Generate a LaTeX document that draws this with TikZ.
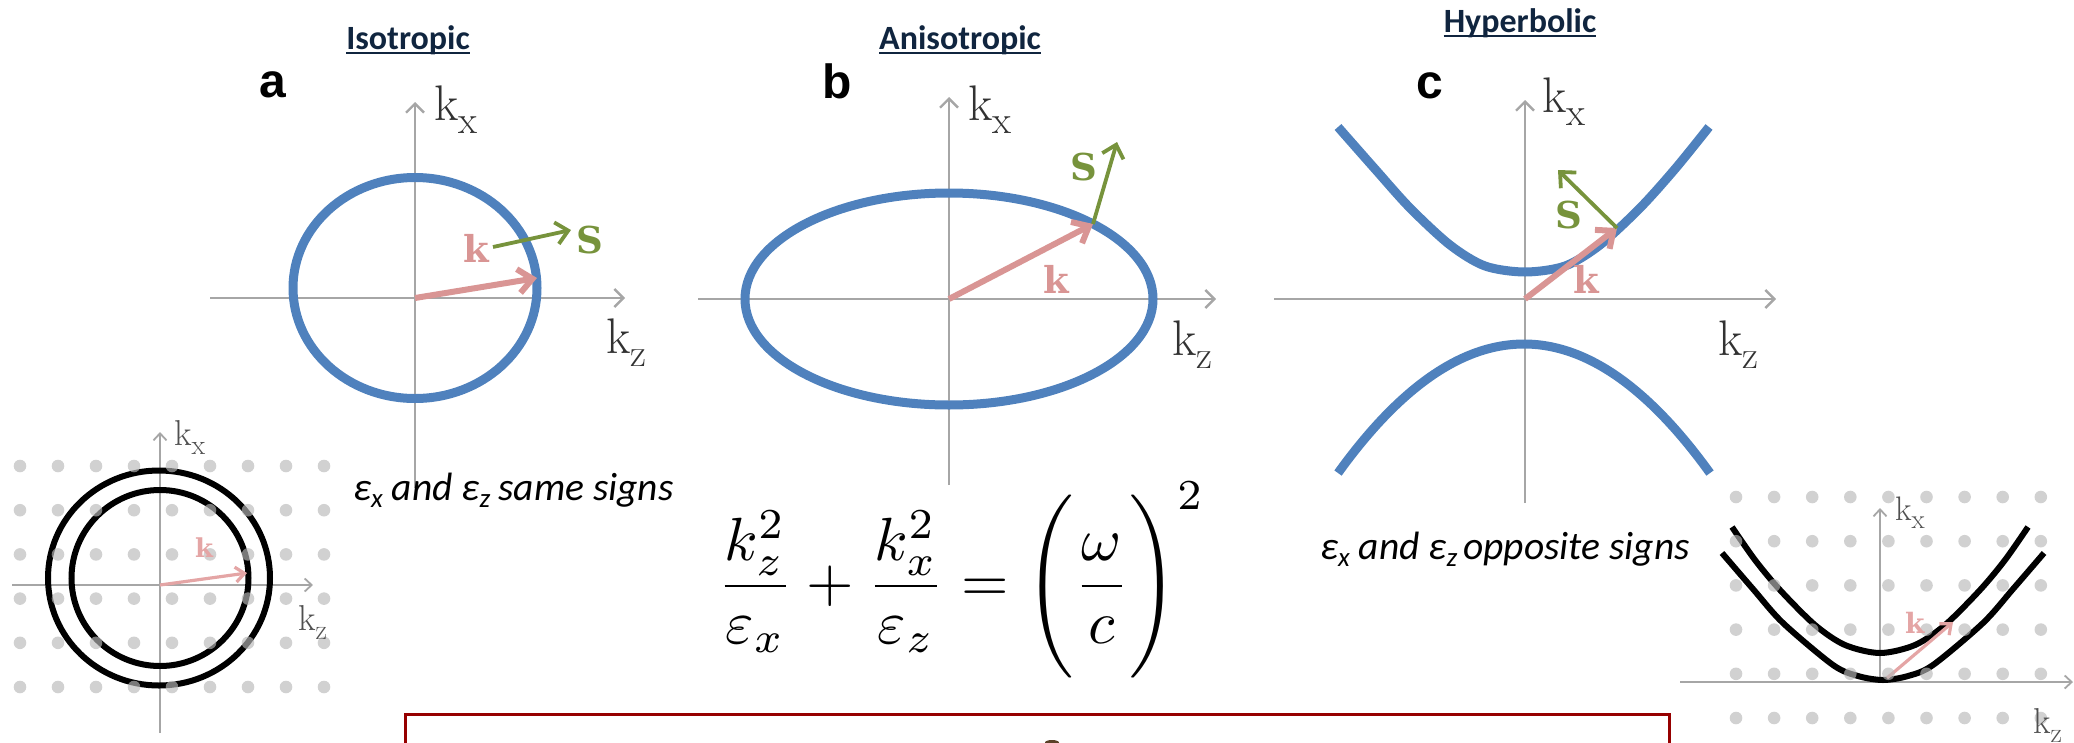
\documentclass[tikz,border=0pt]{standalone}
\usepackage{fontspec}
\usepackage{graphicx}
\usetikzlibrary{arrows.meta}
\newfontfamily\calibrifont{Carlito}
\newfontfamily\arialfont{Liberation Sans}
\newfontfamily\heavyserif{DejaVu Serif}
\definecolor{fsblue}{RGB}{79,129,189}
\definecolor{kpink}{RGB}{217,149,148}
\definecolor{kpinklight}{RGB}{228,165,165}
\definecolor{sgreen}{RGB}{119,147,60}
\definecolor{axgray}{RGB}{166,166,166}
\definecolor{labgray}{RGB}{50,50,50}
\definecolor{inslabgray}{RGB}{80,80,80}
\definecolor{titlenavy}{RGB}{16,37,63}
\definecolor{dotgray}{RGB}{185,185,185}
\definecolor{boxred}{RGB}{150,0,0}
\definecolor{speck}{RGB}{90,65,40}
\newcommand{\kaxlab}[3]{{\fontsize{#1}{#1}\selectfont k\raisebox{-0.26em}{\fontsize{#2}{#2}\selectfont #3}}}
\newcommand{\epsilonsub}[1]{ε\raisebox{-0.2em}{\fontsize{27}{27}\selectfont #1}}
\begin{document}
\begin{tikzpicture}[x=1pt,y=-1pt,
  axisln/.style={draw=axgray, line width=2.4pt, -{Straight Barb[length=9pt,width=18pt]}},
  insaxis/.style={draw=axgray, line width=1.8pt, -{Straight Barb[length=7pt,width=13pt]}},
  fscurve/.style={draw=fsblue, line width=9pt},
  inscurve/.style={draw=black, line width=6pt},
  karrow/.style={draw=kpink, line width=6pt, -{Straight Barb[length=14pt,width=24pt]}},
  sarrow/.style={draw=sgreen, line width=3.8pt, -{Straight Barb[length=12pt,width=22pt]}},
  inskarrow/.style={draw=kpinklight, line width=3.2pt, -{Straight Barb[length=9pt,width=15pt]}},
  titletxt/.style={font=\calibrifont\bfseries\fontsize{34}{40}\selectfont, text=titlenavy, inner sep=0pt, anchor=base},
  letter/.style={font=\arialfont\bfseries\fontsize{48}{50}\selectfont, inner sep=0pt, anchor=base},
  axlab/.style={text=labgray, inner sep=0pt, anchor=base west},
  inslab/.style={text=inslabgray, inner sep=0pt, anchor=base west},
  kbold/.style={font=\heavyserif\bfseries\fontsize{37}{40}\selectfont, text=kpink, inner sep=0pt, anchor=base west},
  sbold/.style={font=\heavyserif\bfseries\fontsize{37}{40}\selectfont, text=sgreen, inner sep=0pt, anchor=base west},
  captiontxt/.style={font=\calibrifont\itshape\fontsize{39.5}{44}\selectfont, inner sep=0pt, anchor=base west},
  dotfill/.style={fill=dotgray, fill opacity=0.65},
  underl/.style={draw=titlenavy, line width=2.5pt}
]
\useasboundingbox (0,0) rectangle (2074,742);
\clip (0,0) rectangle (2074,742);

% ---------------- titles ----------------
\node[titletxt] (tA) at (408,49) {Isotropic};
\draw[underl] ([yshift=-4pt]tA.base west) -- ([yshift=-4pt]tA.base east);
\node[titletxt] (tB) at (960,49) {Anisotropic};
\draw[underl] ([yshift=-4pt]tB.base west) -- ([yshift=-4pt]tB.base east);
\node[titletxt] (tC) at (1520,32) {Hyperbolic};
\draw[underl] ([yshift=-4pt]tC.base west) -- ([yshift=-4pt]tC.base east);

\node[letter] (la) at (273,97) {a};
\node[letter] (lb) at (837,98) {b};
\node[letter] (lc) at (1430,98) {c};

% ---------------- panel a ----------------
\coordinate (Oa) at (415,298);
\coordinate (Axt) at (415,102);
\coordinate (Axb) at (415,488);
\coordinate (Azl) at (210,298);
\coordinate (Azr) at (625,298);
\draw[axisln] (Axb) -- (Axt);
\draw[axisln] (Azl) -- (Azr);
\draw[fscurve] (415,288) ellipse [x radius=122pt, y radius=110.5pt];
\coordinate (Ka) at (537,278);
\draw[karrow] (Oa) -- (Ka);
\coordinate (Sa0) at (493,247);
\coordinate (Sa1) at (571,230);
\draw[sarrow] (Sa0) -- (Sa1);
\node[axlab] (kxa) at (434,120) {\kaxlab{50}{39}{x}};
\node[axlab] (kza) at (606,353) {\kaxlab{50}{39}{z}};
\node[kbold] (kla) at (463,262) {k};
\node[sbold] (sla) at (576,253) {S};
\node[captiontxt] (capa) at (353,500) {\epsilonsub{x} and \epsilonsub{z}\hspace{8pt}same signs};

% ---------------- panel b ----------------
\coordinate (Ob) at (949,299);
\coordinate (Bxt) at (949,97);
\coordinate (Bxb) at (949,485);
\coordinate (Bzl) at (698,299);
\coordinate (Bzr) at (1216,299);
\draw[axisln] (Bxb) -- (Bxt);
\draw[axisln] (Bzl) -- (Bzr);
\draw[fscurve] (949,299) ellipse [x radius=204pt, y radius=106pt];
\coordinate (Kb) at (1093,224);
\draw[karrow] (Ob) -- (Kb);
\coordinate (Sb1) at (1117,142);
\draw[sarrow] (Kb) -- (Sb1);
\node[axlab] (kxb) at (968,120) {\kaxlab{50}{39}{x}};
\node[axlab] (kzb) at (1172,355) {\kaxlab{50}{39}{z}};
\node[kbold] (klb) at (1043,293) {k};
\node[sbold] (slb) at (1070,180) {S};

% equation
\node[inner sep=0pt] (eqn) at (961,580) {\scalebox{6.1}{$\displaystyle \frac{k_z^2}{\varepsilon_x}+\frac{k_x^2}{\varepsilon_z}=\Biggl(\frac{\omega}{c}\Biggr)^{2}$}};

% ---------------- panel c ----------------
\coordinate (Oc) at (1525,299);
\coordinate (Cxt) at (1525,100);
\coordinate (Cxb) at (1525,503);
\coordinate (Czl) at (1274,299);
\coordinate (Czr) at (1776,299);
\draw[axisln] (Cxb) -- (Cxt);
\draw[axisln] (Czl) -- (Czr);
\draw[fscurve] plot[smooth] coordinates {(1338,127) (1375,169) (1410,208) (1450,245) (1485,266) (1525,272) (1565,266) (1600,245) (1640,208) (1675,169) (1709,127)};
\draw[fscurve] plot[domain=-186:186, samples=61, smooth] ({1524+\x}, {344+37.3*(\x/100)*(\x/100)});
\coordinate (Kc) at (1617,228);
\draw[karrow] (Oc) -- (Kc);
\coordinate (Sc1) at (1558,170);
\draw[sarrow] (Kc) -- (Sc1);
\node[axlab] (kxc) at (1542,112) {\kaxlab{50}{39}{x}};
\node[axlab] (kzc) at (1718,355) {\kaxlab{50}{39}{z}};
\node[kbold] (klc) at (1573,293) {k};
\node[sbold] (slc) at (1555,228) {S};
\node[captiontxt] (capc) at (1320,559) {\epsilonsub{x} and \epsilonsub{z}\hspace{6pt}opposite signs};

% ---------------- inset a ----------------
\coordinate (IOa) at (160,585);
\coordinate (IAxt) at (160,432);
\coordinate (IAxb) at (160,733);
\coordinate (IAzl) at (12,585);
\coordinate (IAzr) at (313,585);
\draw[insaxis] (IAxb) -- (IAxt);
\draw[insaxis] (IAzl) -- (IAzr);
\draw[inscurve] (159,578) ellipse [x radius=111pt, y radius=107.5pt];
\draw[inscurve] (160,578) ellipse [x radius=88.5pt, y radius=88pt];
\coordinate (IKa) at (247,573);
\draw[inskarrow] (IOa) -- (IKa);
\foreach \i in {0,...,8} \foreach \j in {0,...,5}
  \fill[dotfill] ({20+38*\i},{466+44.2*\j}) circle[radius=6.3pt];
\node[inslab] (ikxa) at (174,445) {\kaxlab{36}{28}{x}};
\node[inslab] (ikza) at (298,630) {\kaxlab{36}{28}{z}};
\node[kbold, font=\heavyserif\bfseries\fontsize{26}{28}\selectfont, text=kpinklight] (ikla) at (195,557) {k};

% ---------------- inset c ----------------
\coordinate (IOc) at (1887,678);
\coordinate (ICxt) at (1880,508);
\coordinate (ICxb) at (1880,682);
\coordinate (ICzl) at (1680,682);
\coordinate (ICzr) at (2073,682);
\draw[insaxis] (ICxb) -- (ICxt);
\draw[insaxis] (ICzl) -- (ICzr);
\draw[inscurve] plot[smooth] coordinates {(1732,527) (1755,560) (1780,590) (1815,625) (1845,645) (1880,653) (1915,645) (1945,625) (1980,590) (2005,560) (2028,527)};
\draw[inscurve] plot[smooth] coordinates {(1722,553) (1753,589) (1783,623) (1833,665) (1858,676) (1883,680) (1908,676) (1933,665) (1983,623) (2013,589) (2044,553)};
\coordinate (IKc) at (1953,622);
\draw[inskarrow] (IOc) -- (IKc);
\foreach \i in {0,...,8} \foreach \j in {0,...,5}
  \fill[dotfill] ({1736+38.1*\i},{497+44.2*\j}) circle[radius=6.3pt];
\node[inslab] (ikxc) at (1895,520) {\kaxlab{34}{27}{x}};
\node[inslab] (ikzc) at (2033,733) {\kaxlab{36}{28}{z}};
\node[kbold, font=\heavyserif\bfseries\fontsize{28}{30}\selectfont, text=kpinklight] (iklc) at (1905,633) {k};

% ---------------- bottom box ----------------
\draw[boxred, line width=3pt] (405,760) -- (405,714.5) -- (1669,714.5) -- (1669,760);
\fill[speck] (1052,742.5) ellipse [x radius=7pt, y radius=2.5pt];
\end{tikzpicture}
\end{document}
